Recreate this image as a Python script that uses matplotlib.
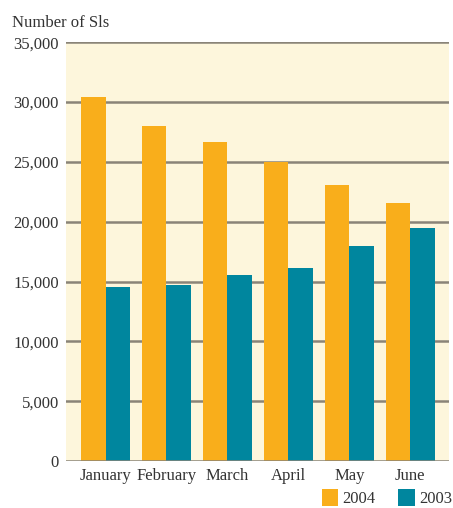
import numpy as np
import matplotlib.pyplot as plt

months = ['January', 'February', 'March', 'April', 'May', 'June']
sis_2004 = [30400, 28000, 26650, 24950, 23050, 21550]
sis_2003 = [14550, 14700, 15550, 16100, 17950, 19450]
yticks = [0, 5000, 10000, 15000, 20000, 25000, 30000, 35000]

orange = '#F9AE1B'
teal = '#00869E'
grid_col = '#8A8478'
text_col = '#333333'

plt.rcParams['font.family'] = ['Liberation Serif', 'DejaVu Serif']

fig = plt.figure(figsize=(4.53, 5.08), dpi=100)
ax = fig.add_axes([0.1457, 0.0925, 0.845, 0.8245])
ax.set_facecolor('#FDF6DC')

x = np.arange(len(months))
w = 0.4
ax.bar(x - w / 2, sis_2004, w, color=orange, label='2004', zorder=3)
ax.bar(x + w / 2, sis_2003, w, color=teal, label='2003', zorder=3)

# horizontal rules behind the bars, baseline on top
for y in yticks[1:]:
    ax.axhline(y, color=grid_col, lw=1.8, zorder=1)
ax.axhline(0, color=grid_col, lw=1.8, zorder=4)

ax.set_xlim(-0.648, 5.631)
ax.set_ylim(0, 35000)
ax.set_xticks(x)
ax.set_xticklabels(months, fontsize=12, color=text_col)
ax.set_yticks(yticks)
ax.set_yticklabels([f'{v:,}' for v in yticks], fontsize=12, color=text_col)
ax.tick_params(length=0, pad=5)
for s in ax.spines.values():
    s.set_visible(False)

fig.text(0.026, 0.955, 'Number of Sls', fontsize=12, color=text_col,
         ha='left', va='center')

fig.legend(loc='lower right', bbox_to_anchor=(452 / 453, 1 / 508), ncol=2,
           frameon=False, fontsize=12, borderpad=0, borderaxespad=0,
           handlelength=1.0, handleheight=1.2,
           handletextpad=0.25, columnspacing=1.35, labelcolor=text_col)

fig.savefig('out.png', dpi=100)
